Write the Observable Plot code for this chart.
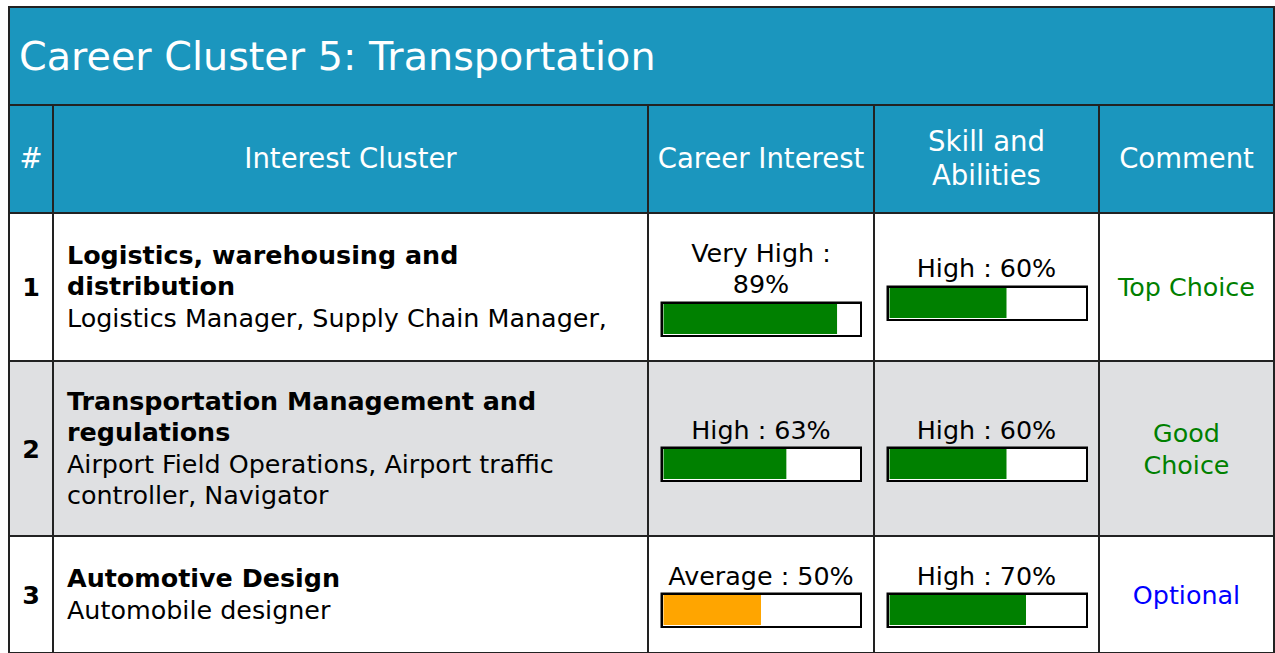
<!DOCTYPE html>
<html>
<head>
<meta charset="utf-8">
<script src="https://cdn.jsdelivr.net/npm/d3@7"></script>
<script src="https://cdn.jsdelivr.net/npm/@observablehq/plot@0.6"></script>
<style>
html, body { margin: 0; padding: 0; background: #fff; overflow: hidden; }
body { font-family: "DejaVu Sans", sans-serif; width: 1275px; height: 653px; position: relative; }
#tbl {
  position: absolute; left: 8px; top: 6px;
  display: grid;
  grid-template-columns: 42px 593px 224px 223px 173px;
  grid-template-rows: 96px 106px 146px 173px 115px;
  gap: 2px; padding: 2px; background: #222;
}
.cell { display: flex; flex-direction: column; justify-content: center; box-sizing: border-box; }
.title { grid-column: 1 / 6; background: #1b96be; color: #fff; font-size: 39.7px; padding-left: 9px; }
.head { background: #1b96be; color: #fff; font-size: 27.5px; line-height: 1.23; text-align: center; align-items: center; padding: 0 5px; }
.num { font-size: 25.4px; font-weight: bold; text-align: center; align-items: center; }
.clus { font-size: 25.4px; line-height: 31.5px; padding: 0 28px 0 13px; color: #000; }
.clus b { display: block; }
.meter { font-size: 25.4px; line-height: 31.5px; text-align: center; align-items: center; color: #000; }
.meter .lab { width: 200px; }
.meter svg { display: block; }
.comm { font-size: 25.4px; line-height: 32px; text-align: center; align-items: center; padding: 0 10px; }
.odd { background: #fff; }
.even { background: #dfe0e2; }
</style>
</head>
<body>
<div id="tbl"></div>
<script>
const title = "Career Cluster 5: Transportation";
const headers = ["#", "Interest Cluster", "Career Interest", "Skill and Abilities", "Comment"];
const rowNumbers = [1, 2, 3];
const clusterNames = [
  "Logistics, warehousing and distribution",
  "Transportation Management and regulations",
  "Automotive Design"
];
const careerExamples = [
  "Logistics Manager, Supply Chain Manager,",
  "Airport Field Operations, Airport traffic controller, Navigator",
  "Automobile designer"
];
const interestLevels = ["Very High", "High", "Average"];
const interestValues = [89, 63, 50];
const skillLevels = ["High", "High", "High"];
const skillValues = [60, 60, 70];
const comments = ["Top Choice", "Good Choice", "Optional"];

// styles
const levelDomain = ["Very High", "High", "Average"];
const levelColors = ["#008000", "#008000", "#ffa500"];
const commentColors = {"Top Choice": "#008000", "Good Choice": "#008000", "Optional": "#0000ff"};

const tbl = document.getElementById("tbl");
function cell(cls, html) {
  const d = document.createElement("div");
  d.className = "cell " + cls;
  if (html !== undefined) d.innerHTML = html;
  tbl.appendChild(d);
  return d;
}

function meterPlot(level, value) {
  return Plot.plot({
    width: 202, height: 36, margin: 0,
    x: {domain: [0, 100], range: [3.5, 198.5], axis: null},
    color: {domain: levelDomain, range: levelColors},
    marks: [
      Plot.frame({fill: "white", stroke: "black", strokeWidth: 2.5, inset: 1.25}),
      Plot.barX([value], {x1: 0, x2: d => d, fill: () => level, insetTop: 3, insetBottom: 3})
    ]
  });
}

cell("title", title);
headers.forEach(h => cell("head", h));

rowNumbers.forEach((n, i) => {
  const band = i % 2 === 0 ? "odd" : "even";
  cell("num " + band, String(n));
  const c = cell("clus " + band);
  const b = document.createElement("b");
  b.textContent = clusterNames[i];
  const s = document.createElement("span");
  s.textContent = careerExamples[i];
  c.appendChild(b); c.appendChild(s);

  [[interestLevels[i], interestValues[i]], [skillLevels[i], skillValues[i]]].forEach(([lv, v]) => {
    const m = cell("meter " + band);
    const lab = document.createElement("div");
    lab.className = "lab";
    lab.textContent = `${lv} : ${v}%`;
    m.appendChild(lab);
    m.appendChild(meterPlot(lv, v));
  });

  const cm = cell("comm " + band, comments[i]);
  cm.style.color = commentColors[comments[i]];
});
</script>
</body>
</html>
